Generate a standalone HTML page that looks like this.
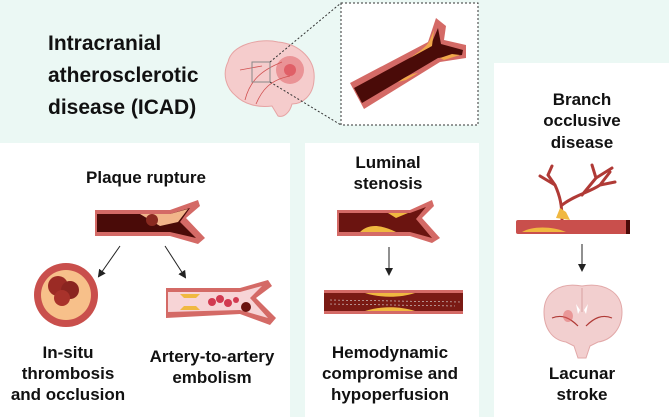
<!DOCTYPE html>
<html><head><meta charset="utf-8"><style>
html,body{margin:0;padding:0;}
body{width:669px;height:417px;overflow:hidden;background:#ebf8f4;}
svg{display:block;}
text{font-family:"Liberation Sans",sans-serif;font-weight:bold;fill:#111;}
</style></head><body>
<svg width="669" height="417" viewBox="0 0 669 417" xmlns="http://www.w3.org/2000/svg">
<defs>
<marker id="ah" markerWidth="8" markerHeight="8" refX="6" refY="4" orient="auto" markerUnits="userSpaceOnUse"><path d="M0,0 L8,4 L0,8 Z" fill="#222"/></marker>
</defs>
<rect x="0" y="0" width="669" height="417" fill="#ebf8f4"/>
<rect x="0" y="143" width="290" height="274" fill="#fff"/>
<rect x="305" y="143" width="174" height="274" fill="#fff"/>
<rect x="494" y="63" width="175" height="354" fill="#fff"/>

<!-- title -->
<text x="48" y="50" font-size="21">Intracranial</text>
<text x="48" y="82" font-size="21">atherosclerotic</text>
<text x="48" y="114" font-size="21">disease (ICAD)</text>

<!-- top brain -->
<path d="M228,62 C232,44 260,38 278,42 C300,44 316,60 314,80 C313,96 302,104 292,104 C290,112 284,118 278,116 L272,106 C258,108 244,104 236,96 C226,88 222,74 228,62 Z" fill="#f5cccc" stroke="#e6a3a3" stroke-width="1"/>
<circle cx="290" cy="70" r="14" fill="#e05a60" opacity="0.5"/>
<circle cx="290" cy="70" r="6" fill="#d93c48" opacity="0.6"/>
<path d="M245,100 C250,80 262,70 282,62 M256,104 C262,90 270,80 290,76 M240,70 L262,66" stroke="#d05050" stroke-width="0.8" fill="none"/>
<rect x="252" y="62" width="18" height="20" fill="none" stroke="#888" stroke-width="1"/>
<line x1="270" y1="62" x2="341" y2="3" stroke="#333" stroke-width="1" stroke-dasharray="2,2"/>
<line x1="270" y1="82" x2="341" y2="125" stroke="#333" stroke-width="1" stroke-dasharray="2,2"/>
<rect x="341" y="3" width="137" height="122" fill="#fff" stroke="#333" stroke-width="1" stroke-dasharray="2,2"/>
<!-- zoom vessel -->
<path d="M350,83 L428,42 L436,18 L446,26 L444,40 L466,45 L466,58 L440,62 L364,109 Z" fill="#d46a66"/>
<path d="M354,88 L430,47 L438,28 L441,44 L463,50 L462,55 L438,58 L362,103 Z" fill="#4a0b08"/>
<path d="M410,58 C418,52 426,48 430,40 L434,30 L432,46 Z M398,82 C404,78 410,74 418,73 L406,80 Z M440,58 L452,54 L460,55 L444,60 Z" fill="#f0a84a"/>

<!-- Plaque rupture -->
<text x="146" y="183" font-size="17" text-anchor="middle">Plaque rupture</text>
<path d="M95,210 L170,210 L198,200 L200,206 L186,218 L205,238 L198,244 L170,236 L95,236 Z" fill="#d46a66"/>
<path d="M97,214 L170,214 L190,208 L180,222 L196,238 L170,232 L97,232 Z" fill="#4a0b08"/>
<path d="M140,214 L170,214 L188,209 L178,222 L160,226 Z" fill="#f2b58a"/>
<circle cx="152" cy="220" r="6" fill="#8a2a20"/>
<line x1="120" y1="246" x2="99" y2="276" stroke="#222" stroke-width="1" marker-end="url(#ah)"/>
<line x1="165" y1="246" x2="185" y2="277" stroke="#222" stroke-width="1" marker-end="url(#ah)"/>
<!-- cross section -->
<ellipse cx="66" cy="295" rx="32" ry="32" fill="#c94f4c"/>
<ellipse cx="66" cy="295" rx="25" ry="25" fill="#f7c08a"/>
<circle cx="58" cy="286" r="10" fill="#9b2b25"/>
<circle cx="70" cy="290" r="9" fill="#8a2520"/>
<circle cx="62" cy="298" r="8" fill="#a8322b"/>
<!-- embolism vessel -->
<path d="M166,288 L240,288 L268,280 L272,286 L256,298 L276,318 L270,325 L240,314 L166,318 Z" fill="#d46a66"/>
<path d="M168,292 L240,292 L262,286 L250,298 L268,318 L240,310 L168,312 Z" fill="#f7d4d6"/>
<path d="M180,294 L200,294 L196,298 L184,298 Z M180,310 L200,310 L196,306 L184,306 Z" fill="#f0b840"/>
<circle cx="212" cy="302" r="4" fill="#d23a50"/><circle cx="220" cy="299" r="4" fill="#d23a50"/><circle cx="228" cy="303" r="4" fill="#d23a50"/><circle cx="236" cy="300" r="3" fill="#d23a50"/><circle cx="246" cy="307" r="5" fill="#6a1410"/>

<text x="68" y="358" font-size="17" text-anchor="middle">In-situ</text>
<text x="68" y="379" font-size="17" text-anchor="middle">thrombosis</text>
<text x="68" y="400" font-size="17" text-anchor="middle">and occlusion</text>
<text x="212" y="362" font-size="17" text-anchor="middle">Artery-to-artery</text>
<text x="212" y="383" font-size="17" text-anchor="middle">embolism</text>

<!-- Luminal stenosis -->
<text x="388" y="168" font-size="17" text-anchor="middle">Luminal</text>
<text x="388" y="189" font-size="17" text-anchor="middle">stenosis</text>
<path d="M337,210 L410,210 L432,200 L434,206 L422,218 L440,238 L432,243 L410,236 L337,236 Z" fill="#d46a66"/>
<path d="M339,213 L410,213 L426,207 L416,219 L432,238 L410,232 L339,232 Z" fill="#6b1410"/>
<path d="M360,232 C368,224 380,224 396,232 Z M388,213 L408,213 L396,218 Z" fill="#f0b840"/>
<line x1="389" y1="247" x2="389" y2="274" stroke="#222" stroke-width="1" marker-end="url(#ah)"/>
<rect x="324" y="290" width="139" height="24" fill="#d46a66"/>
<rect x="324" y="293" width="139" height="18" fill="#7a1a14"/>
<path d="M365,293 C380,298 400,298 415,293 Z M365,311 C380,306 400,306 415,311 Z" fill="#f0b840"/>
<path d="M330,300 L460,302 M330,304 L455,306" stroke="#ddd" stroke-width="0.6" stroke-dasharray="2,2"/>

<text x="390" y="358" font-size="17" text-anchor="middle">Hemodynamic</text>
<text x="390" y="379" font-size="17" text-anchor="middle">compromise and</text>
<text x="390" y="400" font-size="17" text-anchor="middle">hypoperfusion</text>

<!-- Branch occlusive -->
<text x="582" y="105" font-size="17" text-anchor="middle">Branch</text>
<text x="582" y="126" font-size="17" text-anchor="middle">occlusive</text>
<text x="582" y="148" font-size="17" text-anchor="middle">disease</text>
<g stroke="#b03a36" stroke-width="3" fill="none" stroke-linecap="round">
<path d="M562,220 C562,205 560,196 555,185 L548,175 M555,185 L540,176 M548,175 L552,166"/>
<path d="M562,205 C575,195 590,192 600,185 L615,182 M600,185 L610,172 M582,195 L596,178 L592,165 M596,178 L612,168"/>
</g>
<path d="M556,218 L560,208 L566,212 L570,220 Z" fill="#f0b840"/>
<rect x="516" y="220" width="114" height="14" rx="2" fill="#c94f4c"/>
<rect x="626" y="220" width="4" height="14" fill="#4a0b08"/>
<path d="M522,232 C532,226 552,226 566,232 Z" fill="#f0b840"/>
<line x1="582" y1="244" x2="582" y2="270" stroke="#222" stroke-width="1" marker-end="url(#ah)"/>
<!-- coronal brain -->
<path d="M582,286 C560,282 544,292 544,312 C544,328 552,340 566,342 L574,346 L578,358 L586,358 L590,346 L598,342 C612,340 622,328 622,312 C622,292 604,282 582,286 Z" fill="#f2cfcf" stroke="#e2a8a8" stroke-width="1"/>
<path d="M582,288 L582,312" stroke="#d8a0a0" stroke-width="1"/>
<path d="M576,304 L580,310 L578,314 Z M588,304 L584,310 L586,314 Z" fill="#fff"/>
<path d="M552,318 C562,314 570,318 578,326 M612,318 C602,314 594,318 586,326" stroke="#b03a36" stroke-width="1.2" fill="none"/>
<ellipse cx="568" cy="316" rx="5" ry="6" fill="#e06060" opacity="0.5"/>

<text x="582" y="379" font-size="17" text-anchor="middle">Lacunar</text>
<text x="582" y="400" font-size="17" text-anchor="middle">stroke</text>
</svg>
</body></html>
